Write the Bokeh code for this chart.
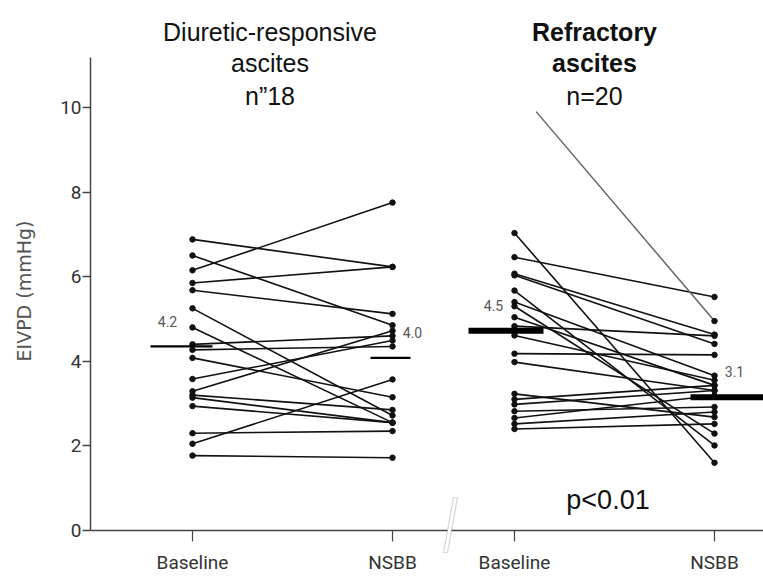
from bokeh.plotting import figure
from bokeh.models import FixedTicker, Range1d, Label, PolyAnnotation, ColumnDataSource
from bokeh.embed import file_html
from bokeh.resources import INLINE
from bokeh.core.properties import value

# ---------------- data ----------------
time_labels = ["Baseline", "NSBB", "Baseline", "NSBB"]
title_dr = ["Diuretic-responsive", "ascites", "n\u201d18"]
title_ra = ["Refractory", "ascites", "n=20"]

# Diuretic-responsive ascites: paired values (mmHg)
dr_baseline = [6.88, 6.50, 6.15, 5.85, 5.68, 5.25, 4.80, 4.40, 4.27, 4.08,
               3.58, 3.29, 3.20, 3.14, 2.94, 2.30, 2.05, 1.77]
dr_nsbb = [6.23, 4.85, 7.75, 6.23, 5.12, 2.72, 2.55, 4.60, 4.35, 3.15,
           4.49, 4.72, 2.85, 2.55, 2.55, 2.35, 3.57, 1.72]

# Refractory ascites: paired values (mmHg)
ra_baseline = [10.5, 7.03, 6.46, 6.07, 6.03, 5.67, 5.40, 5.30, 5.04, 4.83,
               4.61, 4.18, 3.98, 3.23, 3.10, 2.98, 2.82, 2.66, 2.52, 2.40]
ra_nsbb = [4.95, 1.60, 5.52, 4.63, 4.41, 2.01, 3.66, 2.29, 3.43, 4.60,
           3.55, 4.15, 3.31, 2.68, 3.43, 3.31, 2.92, 3.19, 2.80, 2.52]

mean_labels = ["4.2", "4.0", "4.5", "3.1"]
mean_levels = [4.35, 4.08, 4.72, 3.15]
y_ticks = [0, 2, 4, 6, 8, 10]
y_axis_top = 11.18
p_text = "p<0.01"
ra_top_clip = 9.9          # the out-of-range line is cut here in the original
y_label = "EIVPD (mmHg)"

# ---------------- layout ----------------
X_POS = [0.0, 1.0, 1.61, 2.61]
BREAK_X = 1.29
MEAN_SPAN = [(-0.21, 0.10), (-0.11, 0.09), (-0.23, 0.145), (-0.12, 0.25)]
MEAN_WIDTH = [2.2, 2.2, 6, 6]
MEAN_LABEL_DX = [-0.125, 0.10, -0.105, 0.10]
TICK_FONT = "Roboto"
SANS = "Liberation Sans"

p = figure(width=763, height=581, output_backend="svg", toolbar_location=None,
           x_range=Range1d(-0.51, 2.855), y_range=Range1d(-1.205, 12.526),
           min_border_left=90, min_border_right=0, min_border_top=0,
           min_border_bottom=0)
p.outline_line_color = None
p.grid.visible = False

# --- paired lines and points ---
def draw_panel(base, post, xb, xn):
    xs, ys, gxs, gys = [], [], [], []
    px, py = [], []
    for b, n in zip(base, post):
        if b > ra_top_clip:
            t = (b - ra_top_clip) / (b - n)
            gxs.append([xb + t * (xn - xb), xn])
            gys.append([ra_top_clip, n])
        else:
            xs.append([xb, xn]); ys.append([b, n])
            px.append(xb); py.append(b)
        px.append(xn); py.append(n)
    p.multi_line(xs, ys, line_color="#111111", line_width=1.6)
    if gxs:
        p.multi_line(gxs, gys, line_color="#666666", line_width=1.5)
    p.scatter(px, py, size=5.5, color="#111111")

draw_panel(dr_baseline, dr_nsbb, X_POS[0], X_POS[1])
draw_panel(ra_baseline, ra_nsbb, X_POS[2], X_POS[3])

# --- mean bars and labels ---
msrc = ColumnDataSource(dict(
    x0=[X_POS[i] + MEAN_SPAN[i][0] for i in range(4)],
    x1=[X_POS[i] + MEAN_SPAN[i][1] for i in range(4)],
    y=mean_levels, w=MEAN_WIDTH,
    lx=[X_POS[i] + MEAN_LABEL_DX[i] for i in range(4)],
    ly=[m + 0.6 for m in mean_levels],
    t=mean_labels))
p.segment(x0="x0", y0="y", x1="x1", y1="y", line_width="w", line_color="#000000", source=msrc)
p.text(x="lx", y="ly", text="t", source=msrc, text_font=value(TICK_FONT),
       text_font_size="14px", text_color="#555555", text_align="center",
       text_baseline="middle")

# --- titles ---
title_y = [11.78, 11.04, 10.28]
for i, line in enumerate(title_dr):
    p.add_layout(Label(x=0.3875, y=title_y[i], text=line, text_align="center",
                       text_baseline="alphabetic",
                       text_font=SANS, text_font_size="25px", text_color="#111111"))
for i, line in enumerate(title_ra):
    p.add_layout(Label(x=2.01, y=title_y[i], text=line, text_align="center",
                       text_baseline="alphabetic",
                       text_font=SANS, text_font_size="25px", text_color="#111111",
                       text_font_style="bold" if i < 2 else "normal"))
p.add_layout(Label(x=2.0775, y=0.71, text=p_text, text_align="center",
                   text_baseline="alphabetic",
                   text_font=SANS, text_font_size="27px", text_color="#111111"))

# --- axes ---
ya = p.yaxis[0]
ya.ticker = FixedTicker(ticks=y_ticks, minor_ticks=[])
ya.bounds = (0, y_axis_top)
ya.major_tick_out = 8
ya.major_tick_in = 0
ya.major_label_standoff = 1
ya.major_label_text_font = TICK_FONT
ya.major_label_text_font_size = "19px"
ya.major_label_text_color = "#333333"
ya.axis_line_color = "#444444"
ya.axis_line_width = 1.5
ya.major_tick_line_color = "#444444"
ya.major_tick_line_width = 1.5
ya.axis_label = y_label
ya.axis_label_text_font = "DejaVu Sans"
ya.axis_label_text_font_size = "19px"
ya.axis_label_text_font_style = "normal"
ya.axis_label_text_color = "#555555"
ya.axis_label_standoff = 22

xa = p.xaxis[0]
xa.fixed_location = 0
xa.ticker = FixedTicker(ticks=X_POS, minor_ticks=[])
xa.major_label_overrides = {X_POS[i]: time_labels[i] for i in range(4)}
xa.major_tick_out = 11
xa.major_tick_in = 0
xa.major_label_standoff = 9
xa.major_label_text_font = TICK_FONT
xa.major_label_text_font_size = "19px"
xa.major_label_text_color = "#333333"
xa.axis_line_color = "#444444"
xa.axis_line_width = 1.5
xa.major_tick_line_color = "#444444"
xa.major_tick_line_width = 1.2

# --- axis break (drawn over the x axis) ---
p.add_layout(PolyAnnotation(
    xs=[BREAK_X + 0.015, BREAK_X + 0.035, BREAK_X - 0.015, BREAK_X - 0.035],
    ys=[0.78, 0.78, -0.52, -0.52], fill_color="white", fill_alpha=1.0,
    line_color="#777777", line_width=1.2, level="overlay"))

open("out.html", "w").write(file_html(p, INLINE))
